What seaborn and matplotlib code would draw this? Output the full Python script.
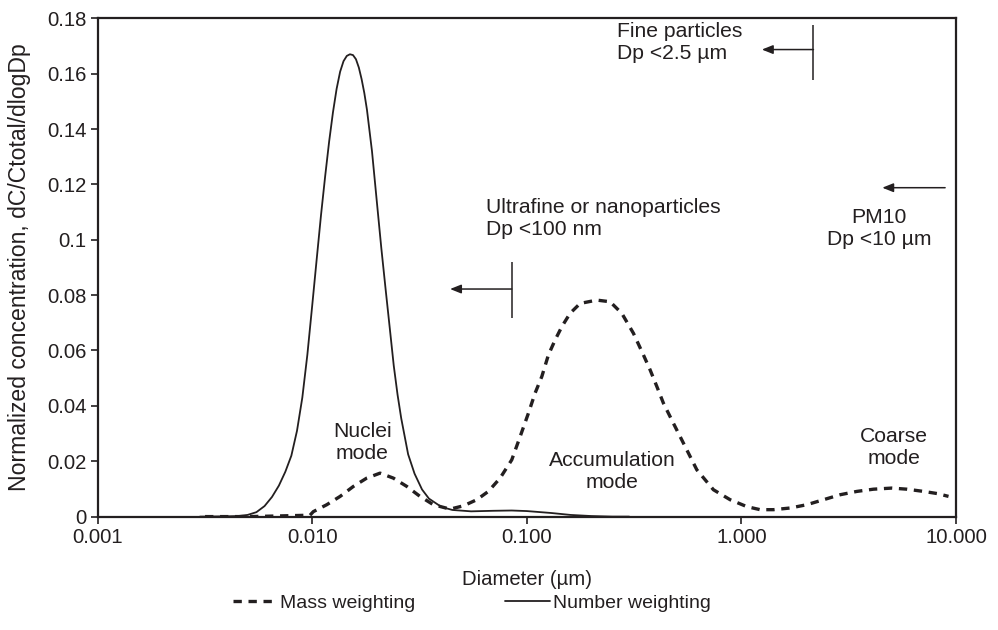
import matplotlib
matplotlib.use("Agg")
import matplotlib.pyplot as plt
import seaborn as sns
import pandas as pd
from matplotlib.ticker import NullLocator

# values
mass_d = [0.00317, 0.00514, 0.00977, 0.01013, 0.0117, 0.0135, 0.01556, 0.01796, 0.02072,
          0.0239, 0.0276, 0.0318, 0.0367, 0.0439, 0.0507, 0.0585, 0.0662, 0.0751, 0.0851,
          0.0931, 0.1017, 0.1093, 0.1175, 0.1261, 0.1355, 0.1456, 0.159, 0.1772, 0.2120,
          0.2445, 0.2772, 0.314, 0.3494, 0.3754, 0.4035, 0.4329, 0.4821, 0.5467, 0.6197,
          0.7405, 0.8857, 1.06, 1.222, 1.41, 1.686, 2.018, 2.411, 2.884, 3.45, 4.12, 5.02,
          5.90, 7.05, 8.2, 9.22]
mass_val = [0.0, 0.0, 0.0005, 0.0018, 0.0043, 0.0073, 0.0109, 0.0139, 0.0157,
            0.0139, 0.0109, 0.0073, 0.0043, 0.0027, 0.0039, 0.0061, 0.0091, 0.0139, 0.0205,
            0.0289, 0.0373, 0.0446, 0.0506, 0.0584, 0.0638, 0.0686, 0.0734, 0.0770, 0.0782,
            0.0776, 0.0734, 0.0662, 0.0584, 0.0530, 0.0470, 0.0410, 0.0337, 0.0253, 0.0169,
            0.0097, 0.0061, 0.0036, 0.0025, 0.0025, 0.0031, 0.0043, 0.0061, 0.0079, 0.0091,
            0.0099, 0.0103, 0.0099, 0.0091, 0.0083, 0.0073]

number_d = [0.0030, 0.0040, 0.0045, 0.0050, 0.0055, 0.0060, 0.0065, 0.0070, 0.0075, 0.0080,
            0.0085, 0.0090, 0.0095, 0.0100, 0.0105, 0.0110, 0.0115, 0.0120, 0.0125, 0.0130,
            0.0135, 0.0140, 0.0145, 0.0150, 0.0155, 0.0160, 0.0165, 0.0170, 0.0175, 0.0180,
            0.0190, 0.0200, 0.0210, 0.0220, 0.0230, 0.0240, 0.0250, 0.0260, 0.0280, 0.0300,
            0.0325, 0.0350, 0.0400, 0.0450, 0.0550, 0.0700, 0.0850, 0.1000, 0.1300, 0.1600,
            0.2000, 0.2500, 0.3000]
number_val = [0.0, 0.0001, 0.0002, 0.0006, 0.0016, 0.0038, 0.0071, 0.0112, 0.0162, 0.0220,
              0.0310, 0.0430, 0.0585, 0.0760, 0.0930, 0.1090, 0.1230, 0.1355, 0.1460, 0.1545,
              0.1607, 0.1645, 0.1664, 0.1670, 0.1667, 0.1652, 0.1622, 0.1580, 0.1530, 0.1470,
              0.1320, 0.1140, 0.0970, 0.0820, 0.0680, 0.0545, 0.0440, 0.0355, 0.0225, 0.0155,
              0.0098, 0.0065, 0.0035, 0.0024, 0.0019, 0.0021, 0.0022, 0.0020, 0.0013, 0.0006,
              0.0002, 0.0, 0.0]

x_ticks = [0.001, 0.01, 0.1, 1, 10]
x_tick_labels = ["0.001", "0.010", "0.100", "1.000", "10.000"]
y_ticks = [0, 0.02, 0.04, 0.06, 0.08, 0.1, 0.12, 0.14, 0.16, 0.18]
y_tick_labels = ["0", "0.02", "0.04", "0.06", "0.08", "0.1", "0.12", "0.14", "0.16", "0.18"]

series_labels = ["Mass weighting", "Number weighting"]

INK = "#231f20"
FS_TICK = 14.6
FS_ANN = 15.2

sns.set_theme(style="ticks")
plt.rcParams["font.family"] = ["Liberation Sans", "DejaVu Sans"]
plt.rcParams["text.color"] = INK

mass = pd.DataFrame({"d": mass_d, "c": mass_val})
number = pd.DataFrame({"d": number_d, "c": number_val})

fig, ax = plt.subplots(figsize=(9.98, 6.3), dpi=100)
fig.subplots_adjust(left=0.0977, right=0.958, top=0.971, bottom=0.18)

sns.lineplot(data=mass, x="d", y="c", ax=ax, color=INK, lw=2.4,
             linestyle=(0, (2.5, 2.0)), legend=False)
sns.lineplot(data=number, x="d", y="c", ax=ax, color=INK, lw=1.3, legend=False)

ax.set_xscale("log")
ax.set_xlim(0.001, 10)
ax.set_ylim(0, 0.18)
ax.set_xticks(x_ticks)
ax.set_xticklabels(x_tick_labels)
ax.xaxis.set_minor_locator(NullLocator())
ax.set_yticks(y_ticks)
ax.set_yticklabels(y_tick_labels)

for s in ax.spines.values():
    s.set_visible(True)
    s.set_linewidth(1.6)
    s.set_color(INK)
ax.tick_params(direction="out", length=5, width=1.2, colors=INK, labelsize=FS_TICK, pad=3)

ax.set_xlabel("Diameter (µm)", fontsize=FS_TICK, color=INK, labelpad=17)
ax.set_ylabel("Normalized concentration, dC/Ctotal/dlogDp", fontsize=16.6, color=INK)
ax.yaxis.set_label_coords(-0.077, 0.5)

# mode labels
ax.text(0.0171, 0.0266, "Nuclei\nmode", ha="center", va="center", fontsize=FS_ANN)
ax.text(0.249, 0.0163, "Accumulation\nmode", ha="center", va="center", fontsize=FS_ANN)
ax.text(5.15, 0.025, "Coarse\nmode", ha="center", va="center", fontsize=FS_ANN)

# size class annotations
arrow = dict(arrowstyle="-|>,head_length=0.55,head_width=0.22", color=INK, lw=1.1,
             shrinkA=0, shrinkB=0)
ax.text(0.2635, 0.1713, "Fine particles\nDp <2.5 µm", ha="left", va="center", fontsize=FS_ANN)
ax.vlines(2.165, 0.1576, 0.1775, color=INK, lw=1.1)
ax.annotate("", xy=(1.245, 0.1687), xytext=(2.165, 0.1687), arrowprops=arrow)

ax.text(0.0646, 0.1076, "Ultrafine or nanoparticles\nDp <100 nm", ha="left", va="center",
        fontsize=FS_ANN)
ax.vlines(0.0851, 0.0716, 0.0921, color=INK, lw=1.1)
ax.annotate("", xy=(0.0439, 0.0822), xytext=(0.0851, 0.0822), arrowprops=arrow)

ax.text(4.38, 0.1039, "PM10\nDp <10 µm", ha="center", va="center", fontsize=FS_ANN)
ax.annotate("", xy=(4.53, 0.1188), xytext=(8.89, 0.1188), arrowprops=arrow)

handles = ax.get_lines()[:2]
fig.legend(handles, series_labels, loc="center", bbox_to_anchor=(0.4725, 0.043), ncol=2,
           frameon=False, fontsize=14, handlelength=2.3, handletextpad=0.15,
           columnspacing=4.6)

fig.savefig("out.png", dpi=100)
